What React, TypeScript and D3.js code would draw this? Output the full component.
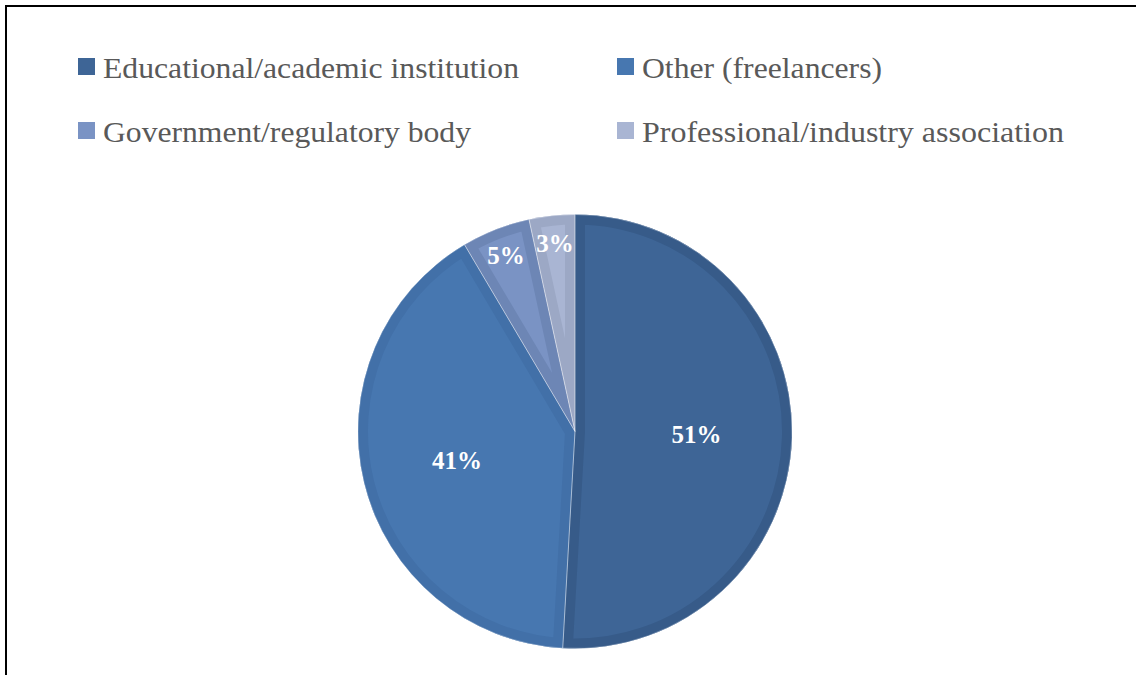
import React from "react";
import * as d3 from "d3";

const categories = [
  "Educational/academic institution",
  "Other (freelancers)",
  "Government/regulatory body",
  "Professional/industry association",
];
const values = [50.9, 40.6, 5.1, 3.4];
const fillColors = ["#3E6596", "#4777B0", "#7A93C4", "#A9B5D3"];
const bandColors = ["#375B89", "#4270A8", "#6D86B5", "#9CA8C5"];
const legendTextWidths = [416, 240, 368, 422];

const W = 1136;
const H = 675;

export default function App() {
  const cx = 575;
  const cy = 431.5;
  const r = 217;
  const pie = d3.pie<number>().sort(null).value((d) => d);
  const arcs = pie(values);
  const arcGen = d3.arc<d3.PieArcDatum<number>>().innerRadius(0).outerRadius(r);
  const labelArcBig = d3.arc<d3.PieArcDatum<number>>().innerRadius(r * 0.56).outerRadius(r * 0.56);
  const labelArcSmall = d3.arc<d3.PieArcDatum<number>>().innerRadius(r * 0.87).outerRadius(r * 0.87);

  const legendX = [78, 617];
  const legendY = [58, 122];

  return (
    <svg
      width={W}
      height={H}
      style={{ position: "absolute", left: 0, top: 0 }}
      fontFamily="'Liberation Serif', 'DejaVu Serif', serif"
    >
      <rect x={0} y={0} width={W} height={H} fill="#fff" />
      <line x1={6} y1={6} x2={W} y2={6} stroke="#000" strokeWidth={2} />
      <line x1={6} y1={5} x2={6} y2={H} stroke="#000" strokeWidth={2} />

      {categories.map((c, i) => {
        const col = i % 2;
        const row = Math.floor(i / 2);
        return (
          <g key={c}>
            <rect x={legendX[col]} y={legendY[row]} width={17} height={17} fill={fillColors[i]} />
            <text
              x={legendX[col] + 25}
              y={legendY[row] + 20}
              fontSize={30}
              fill="#595959"
              textLength={legendTextWidths[i]}
              lengthAdjust="spacingAndGlyphs"
            >
              {c}
            </text>
          </g>
        );
      })}

      <g transform={`translate(${cx},${cy})`}>
        <defs>
          {arcs.map((a, i) => (
            <clipPath id={`clip${i}`} key={i}>
              <path d={arcGen(a) || ""} />
            </clipPath>
          ))}
        </defs>
        {arcs.map((a, i) => (
          <g key={i}>
            <path d={arcGen(a) || ""} fill={fillColors[i]} />
            <path
              d={arcGen(a) || ""}
              fill="none"
              stroke={bandColors[i]}
              strokeWidth={20}
              strokeLinejoin="miter"
              strokeMiterlimit={10}
              clipPath={`url(#clip${i})`}
            />
          </g>
        ))}
        {arcs.map((a, i) => (
          <path key={`s${i}`} d={arcGen(a) || ""} fill="none" stroke="#ffffff" strokeOpacity={0.3} strokeWidth={1} />
        ))}
        {arcs.map((a, i) => {
          const [lx, ly] = a.data > 10 ? labelArcBig.centroid(a) : labelArcSmall.centroid(a);
          return (
            <text
              key={`l${i}`}
              x={lx}
              y={ly}
              textAnchor="middle"
              dominantBaseline="central"
              fontSize={25}
              fontWeight="bold"
              fill="#fff"
            >
              {Math.round(a.data)}%
            </text>
          );
        })}
      </g>
    </svg>
  );
}
